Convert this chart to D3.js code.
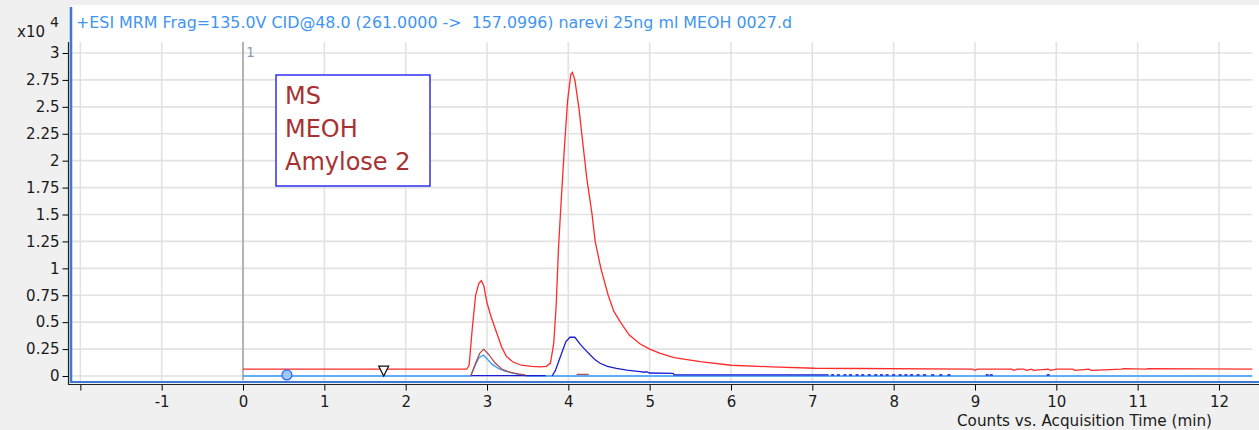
<!DOCTYPE html>
<html lang="en">
<head>
<meta charset="UTF-8">
<title>MRM chromatogram</title>
<script src="https://cdn.jsdelivr.net/npm/d3@7"></script>
<style>
  html, body { margin: 0; padding: 0; background: #f0f0f0; }
  svg { display: block; font-family: "DejaVu Sans", sans-serif; }
</style>
</head>
<body>
<svg id="chart" width="1259" height="430"></svg>
<script>
// ---- data (counts x10^4 vs acquisition time, min) ----
const xTicks = [-2, -1, 0, 1, 2, 3, 4, 5, 6, 7, 8, 9, 10, 11, 12];
const yTicks = [0, 0.25, 0.5, 0.75, 1, 1.25, 1.5, 1.75, 2, 2.25, 2.5, 2.75, 3];

const redTime = [0, 2.75, 2.78, 2.82, 2.86, 2.90, 2.93, 2.96, 3.00, 3.05, 3.12, 3.18, 3.24, 3.32, 3.42, 3.55, 3.65, 3.73,
  3.78, 3.82, 3.85, 3.88, 3.91, 3.95, 3.99, 4.03, 4.05, 4.08, 4.13, 4.18, 4.23, 4.29, 4.33, 4.40, 4.49, 4.56, 4.64,
  4.75, 4.88, 5.00, 5.13, 5.30, 5.62, 6.00, 6.50, 7.03, 8.97, 9.00, 9.03, 9.45, 9.48, 9.52, 9.60, 9.63, 9.70, 9.72,
  9.90, 9.93, 10.0, 10.20, 10.23, 10.40, 10.43, 10.80, 10.83, 11.10, 11.13, 12.41];
const redValue = [0.063, 0.063, 0.10, 0.45, 0.75, 0.86, 0.885, 0.84, 0.68, 0.55, 0.40, 0.27, 0.18, 0.13, 0.10, 0.09, 0.085, 0.09,
  0.12, 0.30, 0.65, 1.20, 1.60, 2.10, 2.55, 2.80, 2.82, 2.75, 2.49, 2.15, 1.82, 1.51, 1.25, 1.00, 0.75, 0.60, 0.50,
  0.38, 0.30, 0.25, 0.21, 0.17, 0.133, 0.10, 0.085, 0.072, 0.063, 0.052, 0.063, 0.063, 0.052, 0.063, 0.063, 0.052, 0.063, 0.052,
  0.063, 0.052, 0.063, 0.063, 0.052, 0.063, 0.052, 0.063, 0.068, 0.063, 0.068, 0.063];

const lightTime = [0, 2.80, 2.85, 2.90, 2.955, 3.00, 3.06, 3.14, 3.22, 3.30, 3.40, 3.50, 12.41];
const lightValue = [0, 0, 0.09, 0.17, 0.195, 0.16, 0.11, 0.07, 0.045, 0.03, 0.012, 0, 0];

const brownTime = [2.80, 2.86, 2.91, 2.96, 3.02, 3.10, 3.18, 3.28, 3.38, 3.47, null, 4.10, 4.25];
const brownValue = [0, 0.12, 0.21, 0.25, 0.20, 0.12, 0.065, 0.035, 0.02, 0.01, null, 0.015, 0.015];

const darkTime = [2.80, 3.72, null, 3.80, 3.84, 3.88, 3.94, 3.97, 4.02, 4.08, 4.14, 4.20, 4.27, 4.33, 4.39, 4.48, 4.59,
  4.72, 4.88, 4.94, 4.96, 5.00, 5.29, 5.30, 7.20];
const darkValue = [0.003, 0.003, null, 0.0, 0.05, 0.133, 0.257, 0.32, 0.36, 0.36, 0.30, 0.25, 0.195, 0.15, 0.118, 0.09, 0.071,
  0.055, 0.04, 0.035, 0.04, 0.028, 0.025, 0.01, 0.01];
const darkDots = [7.25, 7.32, 7.40, 7.47, 7.55, 7.62, 7.70, 7.78, 7.85, 7.92, 8.00, 8.08, 8.15, 8.22, 8.30, 8.38,
  8.48, 8.58, 8.68, 9.15, 9.20, 9.90];

const circleMark = { t: 0.54, v: 0.01 };
const triangleMark = { t: 1.73, v: 0.055 };

const legendLines = ["MS", "MEOH", "Amylose 2"];
const titleText = "+ESI MRM Frag=135.0V CID@48.0 (261.0000 ->  157.0996) narevi 25ng ml MEOH 0027.d";

// ---- layout ----
const svg = d3.select('#chart');
const plotLeft = 71, plotRight = 1252, plotTop = 42, plotBottom = 382;

const x = d3.scaleLinear().domain([-2.115, 12.406]).range([plotLeft, plotRight]);
const y = d3.scaleLinear().domain([0, 3]).range([376, 53]);

svg.append('rect').attr('width', 1259).attr('height', 430).attr('fill', '#f0f0f0');
svg.append('rect').attr('x', plotLeft).attr('y', 5).attr('width', 1259 - plotLeft).attr('height', plotBottom - 5).attr('fill', '#fff');

// grid
svg.append('g').selectAll('line').data(xTicks).enter().append('line')
  .attr('x1', d => x(d)).attr('x2', d => x(d)).attr('y1', plotTop).attr('y2', plotBottom)
  .attr('stroke', '#e2e2e2').attr('stroke-width', 1.6);
svg.append('g').selectAll('line').data(yTicks).enter().append('line')
  .attr('x1', plotLeft).attr('x2', plotRight).attr('y1', d => y(d)).attr('y2', d => y(d))
  .attr('stroke', '#e2e2e2').attr('stroke-width', 1.6);

// marker line at t=0
svg.append('line').attr('x1', x(0)).attr('x2', x(0)).attr('y1', plotTop).attr('y2', 380)
  .attr('stroke', '#808080').attr('stroke-width', 1);
svg.append('text').attr('x', x(0) + 3).attr('y', 57).text('1')
  .attr('font-size', '14px').attr('fill', '#8c9cb4');

// traces
function trace(times, values, color) {
  const pts = times.map((t, i) => ({ t: t, v: values[i] }));
  const line = d3.line().defined(d => d.t !== null && d.v !== null).x(d => x(d.t)).y(d => y(d.v));
  svg.append('path').datum(pts).attr('d', line).attr('fill', 'none')
    .attr('stroke', color).attr('stroke-width', 1.3);
}
trace(lightTime, lightValue, '#3399ff');
trace(darkTime, darkValue, '#1c1cd0');
trace(brownTime, brownValue, '#b05050');
trace(redTime, redValue, '#ff2a2a');

svg.append('g').selectAll('line').data(darkDots).enter().append('line')
  .attr('x1', d => x(d) - 1.5).attr('x2', d => x(d) + 1.5)
  .attr('y1', y(0.01)).attr('y2', y(0.01))
  .attr('stroke', '#1c1cd0').attr('stroke-width', 1.5);

// markers
svg.append('circle').attr('cx', x(circleMark.t)).attr('cy', y(circleMark.v)).attr('r', 5)
  .attr('fill', '#9cc8ff').attr('stroke', '#2f5fff').attr('stroke-width', 1.2);
const tx = x(triangleMark.t), ty = y(triangleMark.v);
svg.append('path').attr('d', `M${tx - 5},${ty - 4} L${tx + 5},${ty - 4} L${tx},${ty + 6} Z`)
  .attr('fill', '#fff').attr('stroke', '#111').attr('stroke-width', 1.2);

// axes
const yAxis = svg.append('g').attr('transform', 'translate(68.5,0)')
  .call(d3.axisLeft(y).tickValues(yTicks).tickSize(6).tickPadding(3).tickFormat(d => String(d)));
yAxis.select('.domain').remove();
yAxis.selectAll('text').attr('font-size', '15px').attr('fill', '#1a1a1a').attr('font-family', '"DejaVu Sans", sans-serif');

const xAxis = svg.append('g').attr('transform', 'translate(0,384.5)')
  .call(d3.axisBottom(x).tickValues(xTicks).tickSize(6).tickPadding(6).tickFormat(d => d === -2 ? '' : String(d)));
xAxis.select('.domain').remove();
xAxis.selectAll('text').attr('font-size', '15px').attr('fill', '#1a1a1a').attr('font-family', '"DejaVu Sans", sans-serif');

// frame lines (black axis + blue selection border)
svg.append('line').attr('x1', 68.5).attr('x2', 68.5).attr('y1', plotTop).attr('y2', 385).attr('stroke', '#222').attr('stroke-width', 1.2);
svg.append('line').attr('x1', 68).attr('x2', 1259).attr('y1', 384.5).attr('y2', 384.5).attr('stroke', '#222').attr('stroke-width', 1.2);
svg.append('line').attr('x1', 71).attr('x2', 71).attr('y1', 7).attr('y2', 383).attr('stroke', '#3f78d6').attr('stroke-width', 2.5);
svg.append('line').attr('x1', 70).attr('x2', 1259).attr('y1', 382).attr('y2', 382).attr('stroke', '#3f78d6').attr('stroke-width', 2);

// header
svg.append('text').attr('x', 76).attr('y', 28).text(titleText)
  .attr('font-size', '15px').attr('fill', '#3f95f0')
  .attr('textLength', 716).attr('lengthAdjust', 'spacingAndGlyphs').style('white-space', 'pre');
svg.append('text').attr('x', 17).attr('y', 37).text('x10').attr('font-size', '15px').attr('fill', '#1a1a1a');
svg.append('text').attr('x', 50).attr('y', 27).text('4').attr('font-size', '14px').attr('fill', '#1a1a1a');

// legend box
svg.append('rect').attr('x', 276).attr('y', 75).attr('width', 154).attr('height', 111)
  .attr('fill', '#fff').attr('stroke', '#1010ee').attr('stroke-width', 1.3);
svg.append('g').selectAll('text').data(legendLines).enter().append('text')
  .attr('x', 285).attr('y', (d, i) => 103.5 + i * 33.3).text(d => d)
  .attr('font-size', '24px').attr('fill', '#a83232');

// x axis title
svg.append('text').attr('x', 1212).attr('y', 426).attr('text-anchor', 'end')
  .text('Counts vs. Acquisition Time (min)').attr('font-size', '15px').attr('fill', '#1a1a1a')
  .attr('textLength', 255).attr('lengthAdjust', 'spacingAndGlyphs');
</script>
</body>
</html>
